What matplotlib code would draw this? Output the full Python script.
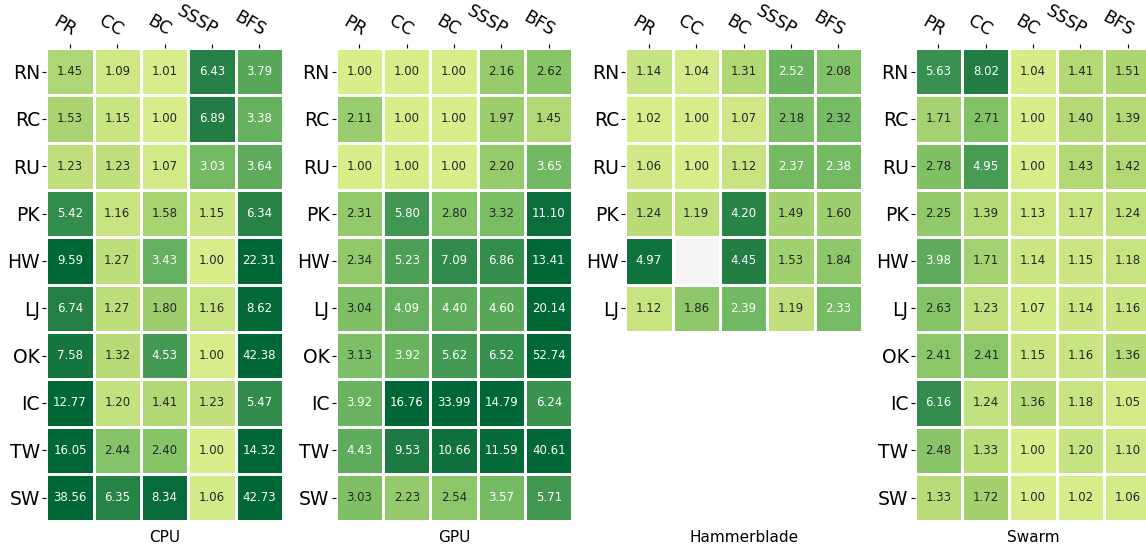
import numpy as np
import matplotlib
matplotlib.use("Agg")
import matplotlib.pyplot as plt
from matplotlib.colors import LinearSegmentedColormap, LogNorm, to_rgb

algos = ["PR", "CC", "BC", "SSSP", "BFS"]
graphs = ["RN", "RC", "RU", "PK", "HW", "LJ", "OK", "IC", "TW", "SW"]
graphs_hb = ["RN", "RC", "RU", "PK", "HW", "LJ"]

cpu = [
    [1.45, 1.09, 1.01, 6.43, 3.79],
    [1.53, 1.15, 1.00, 6.89, 3.38],
    [1.23, 1.23, 1.07, 3.03, 3.64],
    [5.42, 1.16, 1.58, 1.15, 6.34],
    [9.59, 1.27, 3.43, 1.00, 22.31],
    [6.74, 1.27, 1.80, 1.16, 8.62],
    [7.58, 1.32, 4.53, 1.00, 42.38],
    [12.77, 1.20, 1.41, 1.23, 5.47],
    [16.05, 2.44, 2.40, 1.00, 14.32],
    [38.56, 6.35, 8.34, 1.06, 42.73],
]
gpu = [
    [1.00, 1.00, 1.00, 2.16, 2.62],
    [2.11, 1.00, 1.00, 1.97, 1.45],
    [1.00, 1.00, 1.00, 2.20, 3.65],
    [2.31, 5.80, 2.80, 3.32, 11.10],
    [2.34, 5.23, 7.09, 6.86, 13.41],
    [3.04, 4.09, 4.40, 4.60, 20.14],
    [3.13, 3.92, 5.62, 6.52, 52.74],
    [3.92, 16.76, 33.99, 14.79, 6.24],
    [4.43, 9.53, 10.66, 11.59, 40.61],
    [3.03, 2.23, 2.54, 3.57, 5.71],
]
hammerblade = [
    [1.14, 1.04, 1.31, 2.52, 2.08],
    [1.02, 1.00, 1.07, 2.18, 2.32],
    [1.06, 1.00, 1.12, 2.37, 2.38],
    [1.24, 1.19, 4.20, 1.49, 1.60],
    [4.97, np.nan, 4.45, 1.53, 1.84],
    [1.12, 1.86, 2.39, 1.19, 2.33],
]
swarm = [
    [5.63, 8.02, 1.04, 1.41, 1.51],
    [1.71, 2.71, 1.00, 1.40, 1.39],
    [2.78, 4.95, 1.00, 1.43, 1.42],
    [2.25, 1.39, 1.13, 1.17, 1.24],
    [3.98, 1.71, 1.14, 1.15, 1.18],
    [2.63, 1.23, 1.07, 1.14, 1.16],
    [2.41, 2.41, 1.15, 1.16, 1.36],
    [6.16, 1.24, 1.36, 1.18, 1.05],
    [2.48, 1.33, 1.00, 1.20, 1.10],
    [1.33, 1.72, 1.00, 1.02, 1.06],
]
panel_titles = ["CPU", "GPU", "Hammerblade", "Swarm"]
panel_data = [cpu, gpu, hammerblade, swarm]
panel_rows = [graphs, graphs, graphs_hb, graphs]

# colour scale: light yellow-green -> dark green
nodes = [
    (0.00, (217, 238, 139)),
    (0.15, (178, 216, 117)),
    (0.30, (152, 204, 108)),
    (0.50, (118, 188, 100)),
    (0.75, (54, 144, 77)),
    (0.90, (32, 124, 67)),
    (1.00, (0, 104, 55)),
]
cmap = LinearSegmentedColormap.from_list(
    "grn", [(p, tuple(np.array(c) / 255)) for p, c in nodes], N=512)


def rel_lum(c):
    rgb = np.array(to_rgb(c))
    rgb = np.where(rgb <= 0.03928, rgb / 12.92, ((rgb + 0.055) / 1.055) ** 2.4)
    return 0.2126 * rgb[0] + 0.7152 * rgb[1] + 0.0722 * rgb[2]


# position where text switches from dark to white
fs = np.linspace(0, 1, 2001)
lums = np.array([rel_lum(cmap(f)[:3]) for f in fs])
f_star = fs[np.argmax(lums < 0.408)]
switch_value = [2.95, 3.45, 2.325, 3.2]
panel_vmax = [np.exp(np.log(s) / f_star) for s in switch_value]
panel_vmax[3] = max(panel_vmax[3], 8.1)

W, H = 1146, 548
fig = plt.figure(figsize=(W / 100, H / 100), dpi=100)
cell = 47.33
top = 48.0
lefts = [46.3 + i * 289.5 for i in range(4)]

for i, (title, data, rows, vmax) in enumerate(zip(panel_titles, panel_data, panel_rows, panel_vmax)):
    arr = np.array(data, dtype=float)
    nr, nc = arr.shape
    h = nr * cell
    w = nc * cell
    ax = fig.add_axes([lefts[i] / W, 1 - (top + h) / H, w / W, h / H])
    ax.set_facecolor("#f5f5f5")
    norm = LogNorm(vmin=1.0, vmax=vmax, clip=True)
    masked = np.ma.masked_invalid(arr)
    ax.pcolormesh(np.arange(nc + 1), np.arange(nr + 1), masked, cmap=cmap, norm=norm,
                  edgecolors="white", linewidth=2)
    for r in range(nr):
        for c in range(nc):
            v = arr[r, c]
            if np.isnan(v):
                continue
            col = cmap(norm(v))
            tc = ".15" if rel_lum(col[:3]) > 0.408 else "w"
            ax.text(c + 0.5, r + 0.5, f"{v:.2f}", ha="center", va="center",
                    fontsize=8.5, color=tc)
    ax.set_xlim(0, nc)
    ax.set_ylim(nr, 0)
    for s in ax.spines.values():
        s.set_visible(False)
    ax.xaxis.tick_top()
    ax.set_xticks(np.arange(nc) + 0.5)
    ax.set_xticklabels(algos, fontsize=12.5, rotation=-30, ha="right",
                       rotation_mode="anchor", va="bottom")
    ax.set_yticks(np.arange(nr) + 0.5)
    ax.set_yticklabels(rows, fontsize=13.5, rotation=0)
    ax.tick_params(axis="y", length=3, width=0.8, pad=1.5)
    ax.tick_params(axis="x", length=3, width=0.8, pad=3)
    fig.text((lefts[i] + w / 2) / W, 1 - 537 / H, title, ha="center", va="center", fontsize=11)

fig.savefig("out.png", dpi=100)
